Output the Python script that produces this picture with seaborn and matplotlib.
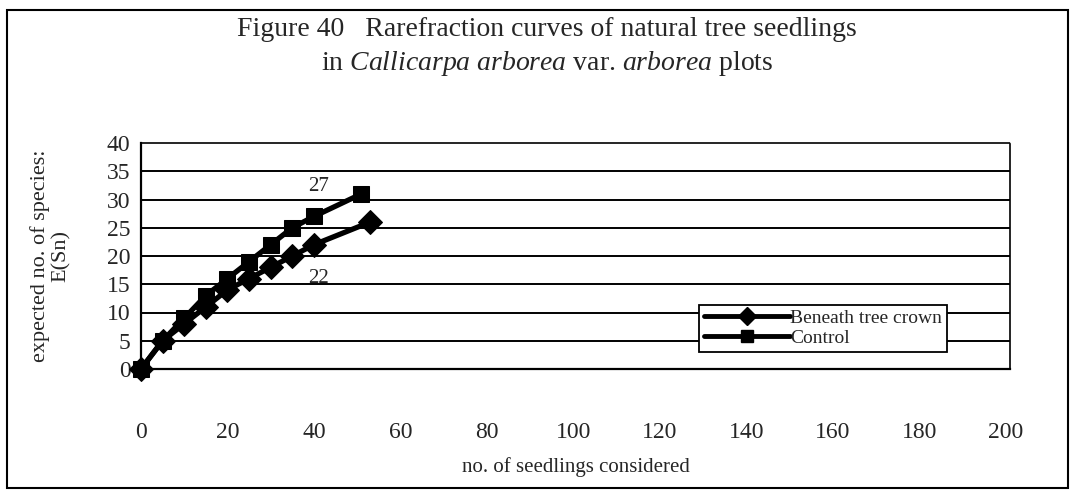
import pandas as pd
import seaborn as sns
import matplotlib.pyplot as plt
from matplotlib.lines import Line2D
from matplotlib.patches import Rectangle

# data
seedlings_beneath = [0, 5, 10, 15, 20, 25, 30, 35, 40, 53]
species_beneath = [0, 5, 8, 11, 14, 16, 18, 20, 22, 26]
seedlings_control = [0, 5, 10, 15, 20, 25, 30, 35, 40, 51]
species_control = [0, 5, 9, 13, 16, 19, 22, 25, 27, 31]
series_names = ["Beneath tree crown", "Control"]
x_ticks = list(range(0, 201, 20))
y_ticks = list(range(0, 41, 5))

df = pd.concat([
    pd.DataFrame({"n": seedlings_beneath, "sn": species_beneath, "plot": series_names[0]}),
    pd.DataFrame({"n": seedlings_control, "sn": species_control, "plot": series_names[1]}),
])

sns.set_style("white")
plt.rcParams["font.family"] = ["Liberation Serif", "DejaVu Serif"]
plt.rcParams["mathtext.fontset"] = "custom"
plt.rcParams["mathtext.rm"] = "Liberation Serif"
plt.rcParams["mathtext.it"] = "Liberation Serif:italic"

fig = plt.figure(figsize=(10.71, 4.95), dpi=100)
ax = fig.add_axes([141 / 1071, 1 - 369 / 495, (1010 - 141) / 1071, (369 - 143) / 495])

# horizontal gridlines
for v in y_ticks[1:-1]:
    ax.axhline(v, color="black", lw=1.4, zorder=0)

sns.lineplot(data=df, x="n", y="sn", hue="plot", style="plot",
             palette=["black", "black"], markers={"Beneath tree crown": "D", "Control": "s"},
             dashes=False, lw=3.8, markersize=12, markeredgecolor="black",
             sort=False, estimator=None, ax=ax, legend=False, clip_on=False, zorder=3)

ax.set_xlim(0, 201)
ax.set_ylim(0, 40)
ax.set_xticks(x_ticks)
ax.set_yticks(y_ticks)
ax.tick_params(axis="y", labelsize=17, direction="inout", length=7, width=1, pad=4)
ax.tick_params(axis="x", labelsize=17, direction="out", length=5, width=1, pad=33)
ax.set_xlabel("no. of seedlings considered", fontsize=15, labelpad=10)
ax.set_ylabel("expected no. of species:\nE(Sn)", fontsize=16, labelpad=26, linespacing=1.1)

for s in ["left", "bottom"]:
    ax.spines[s].set_color("black")
    ax.spines[s].set_linewidth(1.6)
for s in ["top", "right"]:
    ax.spines[s].set_color("black")
    ax.spines[s].set_linewidth(1.2)
    ax.spines[s].set_linestyle((0, (1, 1)))

ax.text(41, 30.6, "27", fontsize=15, ha="center", va="bottom")
ax.text(41, 14.3, "22", fontsize=15, ha="center", va="bottom")

handles = [Line2D([], [], color="black", lw=3.5, marker="D", markersize=9),
           Line2D([], [], color="black", lw=3.5, marker="s", markersize=9)]
leg = ax.legend(handles, series_names, loc="upper right", bbox_to_anchor=(0.927, 0.285),
                fontsize=14, frameon=True, fancybox=False, handlelength=4.4,
                handletextpad=0.0, borderpad=0.25, labelspacing=0.12, borderaxespad=0)
leg.get_frame().set_edgecolor("black")
leg.get_frame().set_linewidth(1.3)
leg.get_frame().set_facecolor("white")
leg.get_frame().set_alpha(1)

fig.text(0.511, 1 - 30 / 495, "Figure 40   Rarefraction curves of natural tree seedlings",
         fontsize=20, ha="center", va="center")
fig.text(0.511, 1 - 64 / 495, r"in $\mathit{Callicarpa\ arborea}$ var. $\mathit{arborea}$ plots",
         fontsize=20, ha="center", va="center")

# outer frame of the figure
fig.add_artist(Rectangle((7 / 1071, 1 - 488 / 495), (1068 - 7) / 1071, (488 - 10) / 495,
                         transform=fig.transFigure, fill=False, edgecolor="black", lw=1.5))

fig.savefig("out.png", dpi=100, facecolor="white")
